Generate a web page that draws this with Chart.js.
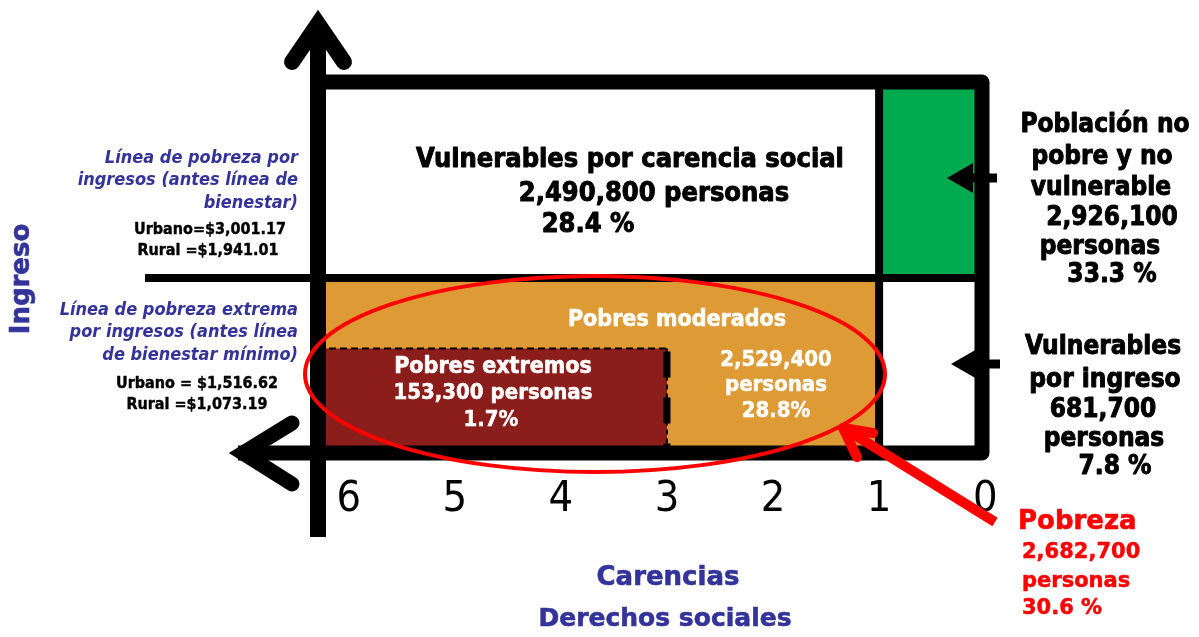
<!DOCTYPE html>
<html><head><meta charset="utf-8">
<script src="https://cdn.jsdelivr.net/npm/chart.js@4.4.1/dist/chart.umd.min.js"></script>
<style>html,body{margin:0;padding:0;background:#fff;overflow:hidden}</style>
</head><body>
<canvas id="c" width="1199" height="637"></canvas>
<script>
// ---- Data ----
const carencias = [6, 5, 4, 3, 2, 1, 0];            // tick labels, eje de carencias
const ejeCarencias = [0.03, 6.29];                   // axis range (reversed)
const ejeIngreso = [0, 100];                         // schematic income axis
const nivelLineaPobreza = 47.2;                      // línea de pobreza por ingresos
const nivelLineaExtrema = 28.2;                      // línea de pobreza extrema por ingresos
const umbralCarencias = 1;                           // al menos una carencia
const umbralCarenciasExtrema = 3;                    // tres o más carencias

const grupos = ['Vulnerables por carencia social', 'Población no pobre y no vulnerable', 'Pobres moderados', 'Vulnerables por ingreso', 'Pobres extremos'];
const personas = [2490800, 2926100, 2529400, 681700, 153300];
const porcentajes = [28.4, 33.3, 28.8, 7.8, 1.7];
const grupoCarenciaDesde = [umbralCarencias, ejeCarencias[0], umbralCarencias, ejeCarencias[0], umbralCarenciasExtrema];
const grupoCarenciaHasta = [ejeCarencias[1], umbralCarencias, ejeCarencias[1], umbralCarencias, ejeCarencias[1]];
const grupoIngresoDesde = [nivelLineaPobreza, nivelLineaPobreza, ejeIngreso[0], ejeIngreso[0], ejeIngreso[0]];
const grupoIngresoHasta = [ejeIngreso[1], ejeIngreso[1], nivelLineaPobreza, nivelLineaPobreza, nivelLineaExtrema];
const grupoColores = ['#ffffff', '#00aa4f', '#de9a35', '#ffffff', '#8b1e1b'];

const pobrezaPersonas = 2682700;
const pobrezaPorcentaje = 30.6;
const lineaPobrezaUrbanoRural = [3001.17, 1941.01];
const lineaExtremaUrbanoRural = [1516.62, 1073.19];

// ---- Helpers ----
const fmt = n => n.toLocaleString('en-US');
const fmt2 = n => n.toLocaleString('en-US', {minimumFractionDigits: 2, maximumFractionDigits: 2});
const BLUE = '#333399';
const fC = (s, it) => `${it ? 'italic ' : ''}bold ${s}px "DejaVu Sans Condensed", "DejaVu Sans", sans-serif`;
const fN = s => `bold ${s}px "DejaVu Sans", sans-serif`;

const datasets = grupos.map((g, i) => {
  const x0 = grupoCarenciaDesde[i], x1 = grupoCarenciaHasta[i];
  const y0 = grupoIngresoDesde[i], y1 = grupoIngresoHasta[i];
  return {
    label: g,
    data: [{x: x0, y: y0}, {x: x1, y: y0}, {x: x1, y: y1}, {x: x0, y: y1}, {x: x0, y: y0}],
    fill: 'shape',
    backgroundColor: grupoColores[i],
    borderWidth: 0,
    pointRadius: 0,
    tension: 0,
    order: i === 4 ? 0 : 1
  };
});

function line(ctx, pts, w, color, cap, join) {
  ctx.save();
  ctx.beginPath();
  ctx.moveTo(pts[0][0], pts[0][1]);
  for (let i = 1; i < pts.length; i++) ctx.lineTo(pts[i][0], pts[i][1]);
  ctx.lineWidth = w; ctx.strokeStyle = color;
  ctx.lineCap = cap || 'butt'; ctx.lineJoin = join || 'miter';
  ctx.stroke();
  ctx.restore();
}
function text(ctx, s, x, y, font, color, align, heavy) {
  ctx.save();
  ctx.font = font; ctx.fillStyle = color;
  ctx.textAlign = align || 'center'; ctx.textBaseline = 'middle';
  ctx.fillText(s, x, y);
  if (heavy) {
    ctx.lineWidth = heavy; ctx.strokeStyle = color; ctx.lineJoin = 'round';
    ctx.strokeText(s, x, y);
  }
  ctx.restore();
}

const diagrama = {
  id: 'diagrama',
  afterDraw(chart) {
    const ctx = chart.ctx;
    const xs = chart.scales.x, ys = chart.scales.y;
    const L = xs.getPixelForValue(ejeCarencias[1]);
    const R = xs.getPixelForValue(ejeCarencias[0]);
    const T = ys.getPixelForValue(ejeIngreso[1]);
    const B = ys.getPixelForValue(ejeIngreso[0]);
    const xU = xs.getPixelForValue(umbralCarencias);
    const xE = xs.getPixelForValue(umbralCarenciasExtrema);
    const yP = ys.getPixelForValue(nivelLineaPobreza);
    const yE = ys.getPixelForValue(nivelLineaExtrema);

    // dashed border of pobres extremos
    ctx.save();
    ctx.setLineDash([7, 4]);
    line(ctx, [[L, yE], [xE, yE]], 2, '#000');
    ctx.restore();
    ctx.save();
    ctx.setLineDash([5, 4]);
    line(ctx, [[xE, yE], [xE, B]], 2, '#000');
    ctx.restore();
    ctx.save();
    ctx.setLineDash([26, 20]);
    ctx.lineDashOffset = -3;
    line(ctx, [[xE, yE], [xE, B]], 7, '#000');
    ctx.restore();

    // inner lines
    line(ctx, [[xU, T], [xU, B]], 8, '#000');
    line(ctx, [[145, yP], [R, yP]], 8, '#000');

    // frame + horizontal axis
    line(ctx, [[L, T], [R, T], [R, B], [238, B]], 15, '#000', 'butt', 'round');
    // vertical axis
    line(ctx, [[L, 537], [L, 24]], 16, '#000');
    // arrowheads
    line(ctx, [[L - 26, 62], [L, 24], [L + 26, 62]], 16, '#000', 'round', 'miter');
    line(ctx, [[292, B - 30], [243, B], [292, B + 31]], 15, '#000', 'round', 'miter');

    // small pointers on the right
    [[178, 947, 997], [364, 951, 1000]].forEach(([y, tip, end]) => {
      ctx.save();
      ctx.beginPath();
      ctx.moveTo(tip, y); ctx.lineTo(tip + 26, y - 15); ctx.lineTo(tip + 26, y + 15); ctx.closePath();
      ctx.fillStyle = '#000'; ctx.fill();
      ctx.restore();
      line(ctx, [[tip + 20, y], [end, y]], 9, '#000');
    });

    // red ellipse & arrow
    ctx.save();
    ctx.beginPath();
    ctx.ellipse(595, 374, 290, 98, 0, 0, Math.PI * 2);
    ctx.lineWidth = 4; ctx.strokeStyle = '#ff0000'; ctx.stroke();
    ctx.restore();
    line(ctx, [[995, 522], [850, 432]], 10, '#ff0000');
    line(ctx, [[873, 433], [843, 428], [857, 457]], 10, '#ff0000', 'round', 'round');

    // texts in the boxes
    text(ctx, grupos[0], 630, 160, fC(27), '#000', 'center', 0.9);
    text(ctx, fmt(personas[0]) + ' personas', 654, 194, fC(27), '#000', 'center', 0.9);
    text(ctx, porcentajes[0].toFixed(1) + ' %', 588, 225, fC(27), '#000', 'center', 0.9);

    text(ctx, grupos[2], 677, 320, fC(23), '#fff', 'center', 0.6);
    text(ctx, fmt(personas[2]), 776, 360, fC(22), '#fff', 'center', 0.5);
    text(ctx, 'personas', 776, 385, fC(22), '#fff', 'center', 0.5);
    text(ctx, porcentajes[2].toFixed(1) + '%', 776, 411, fC(22), '#fff', 'center', 0.5);

    text(ctx, grupos[4], 493, 367, fC(23), '#fff', 'center', 0.6);
    text(ctx, fmt(personas[4]) + ' personas', 493, 393, fC(22), '#fff', 'center', 0.5);
    text(ctx, porcentajes[4].toFixed(1) + '%', 491, 420, fC(22), '#fff', 'center', 0.5);

    // right side labels
    text(ctx, 'Población no', 1105, 125, fC(26), '#000', 'center', 0.9);
    text(ctx, 'pobre y no', 1102, 157, fC(26), '#000', 'center', 0.9);
    text(ctx, 'vulnerable', 1101, 188, fC(26), '#000', 'center', 0.9);
    text(ctx, fmt(personas[1]), 1112, 218, fC(26), '#000', 'center', 0.9);
    text(ctx, 'personas', 1100, 247, fC(26), '#000', 'center', 0.9);
    text(ctx, porcentajes[1].toFixed(1) + ' %', 1112, 275, fC(26), '#000', 'center', 0.9);

    text(ctx, 'Vulnerables', 1103, 347, fC(26), '#000', 'center', 0.9);
    text(ctx, 'por ingreso', 1105, 380, fC(26), '#000', 'center', 0.9);
    text(ctx, fmt(personas[3]), 1103, 410, fC(26), '#000', 'center', 0.9);
    text(ctx, 'personas', 1104, 439, fC(26), '#000', 'center', 0.9);
    text(ctx, porcentajes[3].toFixed(1) + ' %', 1115, 467, fC(26), '#000', 'center', 0.9);

    // poverty total
    text(ctx, 'Pobreza', 1018, 522, fN(26), '#ff0000', 'left', 0.6);
    text(ctx, fmt(pobrezaPersonas), 1022, 553, fN(21), '#ff0000', 'left', 0.5);
    text(ctx, 'personas', 1022, 582, fN(21), '#ff0000', 'left', 0.5);
    text(ctx, pobrezaPorcentaje.toFixed(1) + ' %', 1022, 609, fN(21), '#ff0000', 'left', 0.5);

    // left: income lines
    text(ctx, 'Línea de pobreza por', 298, 158, fC(18, true), BLUE, 'right');
    text(ctx, 'ingresos (antes línea de', 298, 180, fC(18, true), BLUE, 'right');
    text(ctx, 'bienestar)', 298, 203, fC(18, true), BLUE, 'right');
    text(ctx, 'Urbano=$' + fmt2(lineaPobrezaUrbanoRural[0]), 210, 230, fC(16), '#000', 'center', 0.4);
    text(ctx, 'Rural =$' + fmt2(lineaPobrezaUrbanoRural[1]), 208, 251, fC(16), '#000', 'center', 0.4);

    text(ctx, 'Línea de pobreza extrema', 298, 310, fC(18, true), BLUE, 'right');
    text(ctx, 'por ingresos (antes línea', 298, 332, fC(18, true), BLUE, 'right');
    text(ctx, 'de bienestar mínimo)', 298, 355, fC(18, true), BLUE, 'right');
    text(ctx, 'Urbano = $' + fmt2(lineaExtremaUrbanoRural[0]), 197, 384, fC(16), '#000', 'center', 0.4);
    text(ctx, 'Rural =$' + fmt2(lineaExtremaUrbanoRural[1]), 197, 405, fC(16), '#000', 'center', 0.4);

    // axis titles
    ctx.save();
    ctx.translate(22, 279);
    ctx.rotate(-Math.PI / 2);
    text(ctx, 'Ingreso', 0, 0, fN(26), BLUE, 'center', 0.6);
    ctx.restore();
    text(ctx, 'Carencias', 668, 578, fN(26), BLUE, 'center', 0.6);
    text(ctx, 'Derechos sociales', 665, 619, fN(25), BLUE, 'center', 0.6);
  }
};

new Chart(document.getElementById('c'), {
  type: 'line',
  data: { datasets },
  options: {
    responsive: false,
    animation: false,
    layout: { padding: { left: 318, right: 217, top: 82, bottom: 0 } },
    plugins: { legend: { display: false }, tooltip: { enabled: false } },
    scales: {
      x: {
        type: 'linear', reverse: true,
        min: ejeCarencias[0], max: ejeCarencias[1],
        grid: { display: false, drawTicks: false },
        border: { display: false },
        afterBuildTicks: s => { s.ticks = carencias.slice().sort((a, b) => a - b).map(v => ({ value: v })); },
        afterFit: s => { s.height = 184; s.paddingLeft = 0; s.paddingRight = 0; },
        ticks: {
          autoSkip: false, maxRotation: 0, minRotation: 0, padding: 21, color: '#000',
          font: { family: '"DejaVu Sans Condensed", "DejaVu Sans", sans-serif', size: 43 },
          callback: v => String(v)
        }
      },
      y: { type: 'linear', display: false, min: ejeIngreso[0], max: ejeIngreso[1] }
    }
  },
  plugins: [diagrama]
});
</script>
</body></html>
